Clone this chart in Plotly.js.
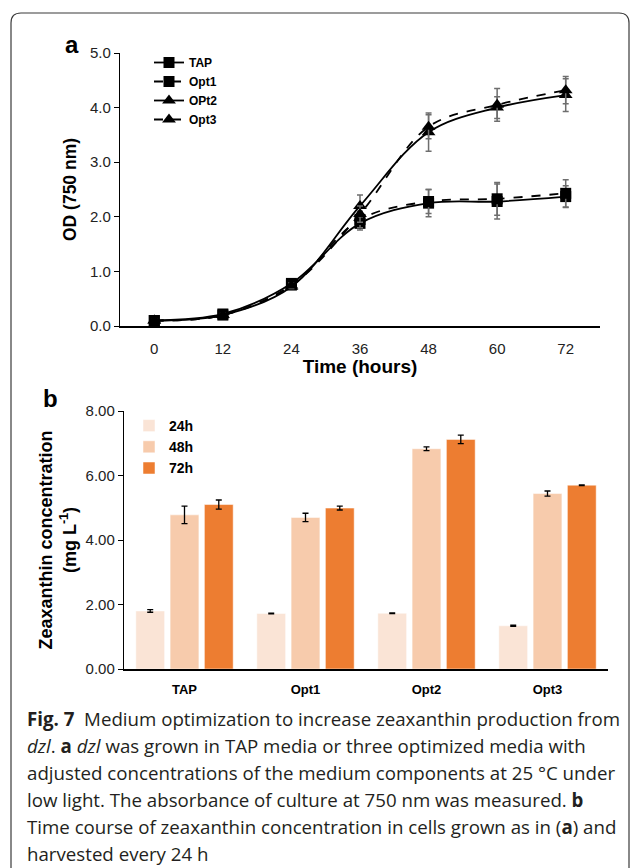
<!DOCTYPE html>
<html>
<head>
<meta charset="utf-8">
<script src="https://cdn.plot.ly/plotly-3.0.1.min.js"></script>
<style>html,body{margin:0;padding:0;background:#fff;} #chart{width:630px;height:868px;}</style>
</head>
<body>
<div id="chart"></div>
<script>
// ---- Panel a: growth curves ----
var hours = [0, 12, 24, 36, 48, 60, 72];
var tapOD  = [0.10, 0.22, 0.78, 1.88, 2.25, 2.28, 2.37];
var tapErr = [0.02, 0.03, 0.05, 0.12, 0.25, 0.32, 0.20];
var opt1OD  = [0.10, 0.20, 0.75, 1.95, 2.28, 2.33, 2.43];
var opt1Err = [0.02, 0.03, 0.05, 0.15, 0.22, 0.30, 0.25];
var opt2OD  = [0.10, 0.20, 0.72, 2.20, 3.55, 4.00, 4.23];
var opt2Err = [0.02, 0.03, 0.05, 0.20, 0.35, 0.20, 0.30];
var opt3OD  = [0.10, 0.20, 0.74, 2.05, 3.65, 4.05, 4.32];
var opt3Err = [0.02, 0.03, 0.05, 0.15, 0.22, 0.30, 0.25];
var lineNames = ['TAP', 'Opt1', 'OPt2', 'Opt3'];

// ---- Panel b: zeaxanthin concentration ----
var media = ['TAP', 'Opt1', 'Opt2', 'Opt3'];
var barNames = ['24h', '48h', '72h'];
var h24 = [1.80, 1.72, 1.73, 1.34];
var h24Err = [0.04, 0.01, 0.01, 0.02];
var h48 = [4.78, 4.70, 6.83, 5.44];
var h48Err = [0.27, 0.13, 0.06, 0.08];
var h72 = [5.10, 4.99, 7.12, 5.70];
var h72Err = [0.14, 0.06, 0.13, 0.01];

var W = 630, H = 868;
function px(x){ return x / W; }
function py(y){ return 1 - y / H; }

var AX = 'Arial, "Liberation Sans", sans-serif';
var errStyle = {color: '#6e6e6e', thickness: 1.5, width: 3};

function lineTrace(name, y, err, dash, symbol){
  return {
    type: 'scatter', mode: 'lines+markers', name: name,
    x: hours, y: y,
    error_y: Object.assign({type: 'data', array: err, visible: true}, errStyle),
    line: {color: '#000', width: 1.8, dash: dash, shape: 'spline', smoothing: 1},
    marker: {symbol: symbol, size: symbol === 'square' ? 11 : 12, color: '#000'},
    xaxis: 'x', yaxis: 'y', legend: 'legend'
  };
}

var traces = [
  lineTrace(lineNames[0], tapOD, tapErr, 'solid', 'square'),
  lineTrace(lineNames[1], opt1OD, opt1Err, 'dash', 'square'),
  lineTrace(lineNames[2], opt2OD, opt2Err, 'solid', 'triangle-up'),
  lineTrace(lineNames[3], opt3OD, opt3Err, 'dash', 'triangle-up')
];

var barColors = ['#fae4d6', '#f7cbac', '#ed7d31'];
var barVals = [h24, h48, h72];
var barErrs = [h24Err, h48Err, h72Err];
for (var i = 0; i < 3; i++) {
  traces.push({
    type: 'bar', name: barNames[i], x: media, y: barVals[i],
    marker: {color: barColors[i], line: {color: '#ffffff', width: 0.5}},
    error_y: {type: 'data', array: barErrs[i], visible: true, color: '#000', thickness: 1.3, width: 3},
    xaxis: 'x2', yaxis: 'y2', legend: 'legend2'
  });
}

var L = 11, T = 13, R = 629, Bt = H + 5, r = 10;
var framePath = 'M ' + px(L) + ',' + py(Bt) +
  ' L ' + px(L) + ',' + py(T + r) +
  ' Q ' + px(L) + ',' + py(T) + ' ' + px(L + r) + ',' + py(T) +
  ' L ' + px(R - r) + ',' + py(T) +
  ' Q ' + px(R) + ',' + py(T) + ' ' + px(R) + ',' + py(T + r) +
  ' L ' + px(R) + ',' + py(Bt);

var capFont = {family: '"Open Sans", "Noto Sans", sans-serif', size: 18.7, color: '#231f20'};
var captionLines = [
  '<b>Fig. 7</b>  Medium optimization to increase zeaxanthin production from',
  '<i>dzl</i>. <b>a</b> <i>dzl</i> was grown in TAP media or three optimized media with',
  'adjusted concentrations of the medium components at 25 °C under',
  'low light. The absorbance of culture at 750 nm was measured. <b>b</b>',
  'Time course of zeaxanthin concentration in cells grown as in (<b>a</b>) and',
  'harvested every 24 h'
];
var captionY = [718, 745, 772, 799, 826, 853];

var annotations = [
  {text: '<b>a</b>', x: px(72), y: py(44), xref: 'paper', yref: 'paper', xanchor: 'center', yanchor: 'middle',
   showarrow: false, font: {family: AX, size: 24, color: '#000'}},
  {text: '<b>b</b>', x: px(50), y: py(398), xref: 'paper', yref: 'paper', xanchor: 'center', yanchor: 'middle',
   showarrow: false, font: {family: AX, size: 24, color: '#000'}}
];
for (var k = 0; k < captionLines.length; k++) {
  annotations.push({text: captionLines[k], x: px(25), y: py(captionY[k]), xref: 'paper', yref: 'paper',
    xanchor: 'left', yanchor: 'middle', showarrow: false, align: 'left', font: capFont});
}

var layout = {
  width: W, height: H, margin: {l: 0, r: 0, t: 0, b: 0},
  paper_bgcolor: '#fff', plot_bgcolor: 'rgba(0,0,0,0)',
  font: {family: AX, color: '#222'},
  showlegend: true,
  barmode: 'group', bargap: 0.15, bargroupgap: 0.16,
  xaxis: {
    domain: [px(120), px(600)], range: [-6, 78], anchor: 'y',
    tickvals: hours, ticks: '', showgrid: false, zeroline: false,
    showline: true, linecolor: '#000', linewidth: 1.5, ticklabelstandoff: 8,
    tickfont: {family: AX, size: 15, color: '#222'},
    title: {text: '<b>Time (hours)</b>', font: {family: AX, size: 19, color: '#000'}, standoff: 3}
  },
  yaxis: {
    domain: [py(326), py(53)], range: [0, 5], anchor: 'x',
    dtick: 1, tickformat: '.1f', ticks: 'outside', ticklen: 5, tickcolor: '#000',
    showgrid: false, zeroline: false, showline: true, linecolor: '#000', linewidth: 1.2,
    tickfont: {family: AX, size: 15, color: '#222'},
    title: {text: '<b>OD (750 nm)</b>', font: {family: AX, size: 17.5, color: '#000'}, standoff: 8}
  },
  xaxis2: {
    domain: [px(124), px(608)], range: [-0.5, 3.5], anchor: 'y2',
    ticks: '', showgrid: false, zeroline: false, showline: true, linecolor: '#000', linewidth: 1.5,
    ticklabelstandoff: 8,
    tickfont: {family: AX, size: 13, color: '#000', weight: 'bold'}
  },
  yaxis2: {
    domain: [py(669), py(411)], range: [0, 8], anchor: 'x2',
    dtick: 2, tickformat: '.2f', ticks: 'outside', ticklen: 5, tickcolor: '#000',
    showgrid: false, zeroline: false, showline: true, linecolor: '#000', linewidth: 1.2,
    tickfont: {family: AX, size: 15, color: '#222'},
    title: {text: '<b>Zeaxanthin concentration<br>(mg L<sup>-1</sup>)</b>', font: {family: AX, size: 18, color: '#000'}, standoff: 4}
  },
  legend: {
    x: px(149), y: py(48), xanchor: 'left', yanchor: 'top', bgcolor: 'rgba(0,0,0,0)',
    font: {family: AX, size: 12, color: '#000', weight: 'bold'}, tracegroupgap: 0, itemwidth: 30
  },
  legend2: {
    x: px(129), y: py(410), xanchor: 'left', yanchor: 'top', bgcolor: 'rgba(0,0,0,0)',
    font: {family: AX, size: 14, color: '#000', weight: 'bold'}, tracegroupgap: 0, itemwidth: 30
  },
  shapes: [{type: 'path', xref: 'paper', yref: 'paper', path: framePath,
    line: {color: '#3a3a3a', width: 1.2}, fillcolor: 'rgba(0,0,0,0)'}],
  annotations: annotations
};

Plotly.newPlot('chart', traces, layout, {staticPlot: true, displayModeBar: false});
</script>
</body>
</html>
